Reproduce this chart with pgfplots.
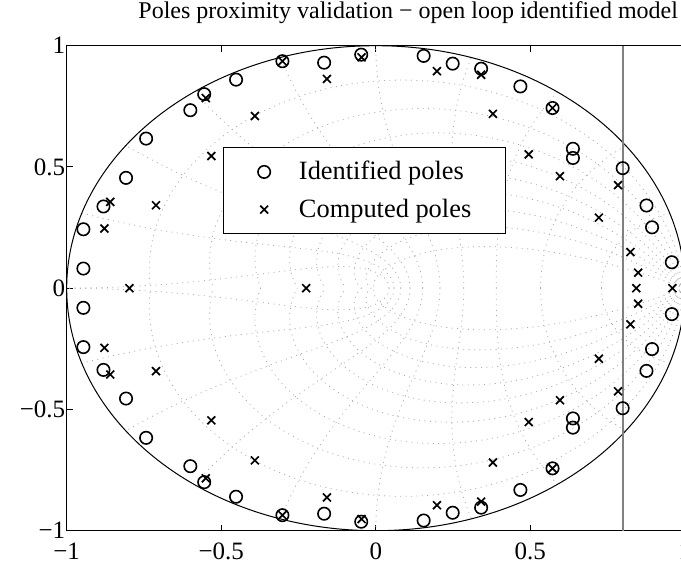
\documentclass[border=0pt]{standalone}
\usepackage{pgfplots}
\pgfplotsset{compat=1.18}
\usepackage{pgfplotstable}
\usepackage{fontspec}
\setmainfont{Liberation Serif}

% identified poles (conjugate pairs)
\pgfplotstableread{
x y
-0.946 0.081
-0.946 -0.081
-0.946 0.243
-0.946 -0.243
-0.881 0.337
-0.881 -0.337
-0.808 0.455
-0.808 -0.455
-0.743 0.617
-0.743 -0.617
-0.600 0.734
-0.600 -0.734
-0.555 0.800
-0.555 -0.800
-0.452 0.860
-0.452 -0.860
-0.302 0.936
-0.302 -0.936
-0.167 0.930
-0.167 -0.930
-0.047 0.963
-0.047 -0.963
0.155 0.958
0.155 -0.958
0.249 0.926
0.249 -0.926
0.341 0.905
0.341 -0.905
0.468 0.832
0.468 -0.832
0.572 0.743
0.572 -0.743
0.638 0.575
0.638 -0.575
0.638 0.537
0.638 -0.537
0.799 0.495
0.799 -0.495
0.876 0.341
0.876 -0.341
0.894 0.251
0.894 -0.251
0.958 0.107
0.958 -0.107
}\identified

% computed poles
\pgfplotstableread{
x y
-0.797 0
-0.225 0
0.843 0
0.960 0
-0.878 0.246
-0.878 -0.246
-0.859 0.356
-0.859 -0.356
-0.711 0.342
-0.711 -0.342
-0.532 0.545
-0.532 -0.545
-0.550 0.784
-0.550 -0.784
-0.391 0.710
-0.391 -0.710
-0.302 0.936
-0.302 -0.936
-0.158 0.863
-0.158 -0.863
-0.046 0.952
-0.046 -0.952
0.198 0.895
0.198 -0.895
0.341 0.880
0.341 -0.880
0.379 0.719
0.379 -0.719
0.495 0.552
0.495 -0.552
0.572 0.743
0.572 -0.743
0.596 0.462
0.596 -0.462
0.784 0.425
0.784 -0.425
0.722 0.291
0.722 -0.291
0.824 0.149
0.824 -0.149
0.849 0.064
0.849 -0.064
}\computed

\begin{document}
\begin{tikzpicture}
\begin{axis}[
  scale only axis, width=341.5pt, height=242.5pt,
  xmin=-1, xmax=1.21, ymin=-1, ymax=1,
  xtick={-1,-0.5,0,0.5,1}, xticklabels={−1,−0.5,0,0.5,1},
  ytick={-1,-0.5,0,0.5,1}, yticklabels={−1,−0.5,0,0.5,1},
  tick align=inside, major tick length=3pt,
  tick style={black, line width=0.5pt},
  axis line style={line width=0.5pt},
  ticklabel style={font=\fontsize{12.5}{15}\selectfont},
  xticklabel style={yshift=-2.5pt},
  yticklabel style={xshift=2.8pt},
  title={Poles proximity validation − open loop identified model},
  title style={font=\fontsize{12}{14}\selectfont, at={(0.5,1)}, anchor=base, yshift=7.7pt},
  trig format plots=rad,
  zg/.style={gray!65, line width=0.4pt, dash pattern=on 0.5pt off 2.2pt, forget plot, no markers},
  legend style={at={(axis cs:-0.036,0.402)}, anchor=center, draw=black, line width=0.5pt,
    inner xsep=17pt, inner ysep=6.8pt, row sep=8.1pt, column sep=14.3pt,
    font=\fontsize{13.2}{15}\selectfont, nodes={inner sep=0pt}},
  legend cell align=left,
  legend image code/.code={\draw[mark repeat=2,mark phase=2] plot coordinates {(0pt,0pt)(5.2pt,0pt)(10.4pt,0pt)};},
]
% z-plane grid: constant damping
\pgfplotsinvokeforeach{0.1005,0.2041,0.3145,0.4364,0.5774,0.75,0.9802,1.3333,2.0647}{
  \addplot[zg, domain=0:3.14159, samples=60] ({exp(-#1*x)*cos(x)},{exp(-#1*x)*sin(x)});
  \addplot[zg, domain=0:3.14159, samples=60] ({exp(-#1*x)*cos(x)},{-exp(-#1*x)*sin(x)});
}
% constant natural frequency
\pgfplotsinvokeforeach{0.31416,0.62832,0.94248,1.25664,1.5708,1.88496,2.19911,2.51327,2.82743,3.14159}{
  \addplot[zg, domain=0:1.5708, samples=40] ({exp(-#1*cos(x))*cos(#1*sin(x))},{exp(-#1*cos(x))*sin(#1*sin(x))});
  \addplot[zg, domain=0:1.5708, samples=40] ({exp(-#1*cos(x))*cos(#1*sin(x))},{-exp(-#1*cos(x))*sin(#1*sin(x))});
}
\draw[black, line width=0.5pt] (axis cs:0,0) ellipse [x radius=1, y radius=1];
\addplot[gray, line width=0.8pt, forget plot] coordinates {(0.8,-1) (0.8,1)};

\addplot[only marks, mark=o, mark size=3.1pt, line width=0.8pt, black] table {\identified};
\addlegendentry{Identified poles}
\addplot[only marks, mark=x, mark size=2.8pt, line width=0.85pt, black] table {\computed};
\addlegendentry{Computed poles}
\end{axis}
\pgfresetboundingbox
\path[use as bounding box] (-33.35pt,-17.65pt) rectangle (307.15pt,265.35pt);
\end{tikzpicture}
\end{document}
